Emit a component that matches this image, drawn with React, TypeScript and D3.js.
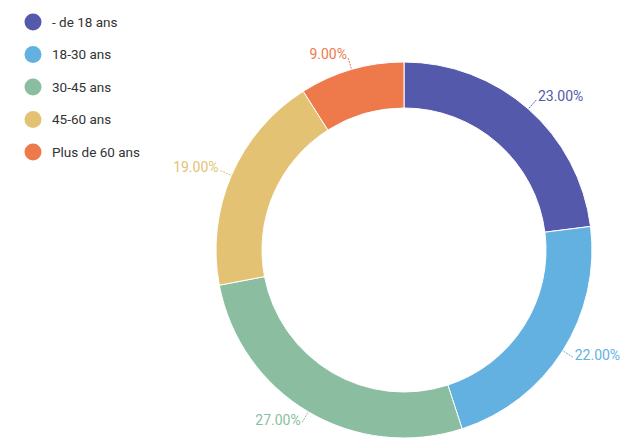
import { useEffect, useRef } from 'react';
import * as d3 from 'd3';

const categories = ['- de 18 ans', '18-30 ans', '30-45 ans', '45-60 ans', 'Plus de 60 ans'];
const values = [23, 22, 27, 19, 9];
const colors = ['#5459ab', '#63b1e0', '#8bbea0', '#e4c273', '#ee7a4c'];

const App = () => {
  const svgRef = useRef<SVGSVGElement>(null);

  useEffect(() => {
    const root = d3.select(svgRef.current);
    root.selectAll('*').remove();

    const width = 626;
    const height = 438;
    const cx = 404;
    const cy = 250;
    const outer = 188;
    const inner = 142;
    const font = 'Roboto, sans-serif';

    const data = categories.map((c, i) => ({ label: c, value: values[i], color: colors[i] }));

    const pie = d3.pie<typeof data[number]>().value(d => d.value).sort(null);
    const arc = d3.arc<d3.PieArcDatum<typeof data[number]>>().innerRadius(inner).outerRadius(outer);
    const total = d3.sum(values);

    const g = root.append('g').attr('transform', `translate(${cx},${cy})`);
    const arcs = pie(data);

    g.selectAll('path.slice')
      .data(arcs)
      .enter()
      .append('path')
      .attr('class', 'slice')
      .attr('d', arc)
      .attr('fill', d => d.data.color)
      .attr('stroke', '#fff')
      .attr('stroke-width', 1);

    // labels with ticks
    const pt = (a: number, r: number) => [Math.sin(a) * r, -Math.cos(a) * r];
    arcs.forEach(d => {
      const mid = (d.startAngle + d.endAngle) / 2;
      const p1 = pt(mid, outer + 1);
      const p2 = pt(mid, outer + 13);
      const right = Math.sin(mid) > 0;
      g.append('polyline')
        .attr('points', [p1, p2].map(p => p.join(',')).join(' '))
        .attr('fill', 'none')
        .attr('stroke', d.data.color)
        .attr('stroke-width', 1)
        .attr('stroke-dasharray', '2,1');
      g.append('text')
        .attr('x', p2[0] + (right ? 1 : -1))
        .attr('y', p2[1] - 3)
        .attr('dy', '0.35em')
        .attr('text-anchor', right ? 'start' : 'end')
        .attr('font-family', font)
        .attr('font-size', 14)
        .attr('fill', d.data.color)
        .text(`${((d.data.value / total) * 100).toFixed(2)}%`);
    });

    // legend
    const legend = root.append('g');
    const y = d3.scalePoint<string>().domain(categories).range([22, 152]);
    categories.forEach((c, i) => {
      const row = legend.append('g').attr('transform', `translate(0,${y(c)})`);
      row.append('circle').attr('cx', 33).attr('cy', 0).attr('r', 8.5).attr('fill', colors[i]);
      row.append('text')
        .attr('x', 52)
        .attr('y', 0)
        .attr('dy', '0.35em')
        .attr('font-family', font)
        .attr('font-size', 13.5)
        .attr('fill', '#333')
        .text(c);
    });

    root.attr('width', width).attr('height', height);
  }, []);

  return (
    <svg
      ref={svgRef}
      width={626}
      height={438}
      style={{ position: 'absolute', left: 0, top: 0, background: '#fff' }}
    />
  );
};

export default App;
